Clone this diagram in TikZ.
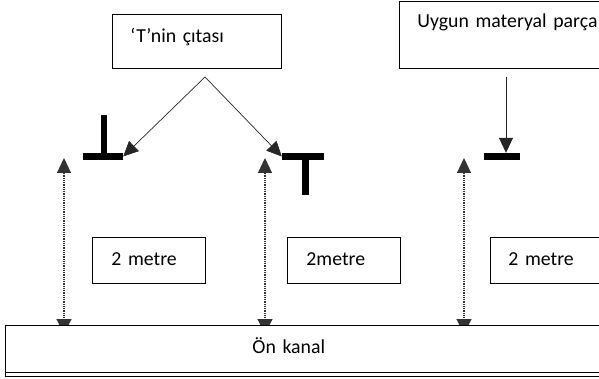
\documentclass[tikz,border=0pt]{standalone}
\usepackage{fontspec}
\setmainfont{Carlito}
\usetikzlibrary{arrows.meta,calc}
\begin{document}
\begin{tikzpicture}[x=1pt,y=-1pt,
  box/.style={draw=black,line width=0.9pt,fill=white,font=\fontsize{19.8}{24}\selectfont,align=left,inner ysep=0pt,anchor=north west},
  bar/.style={fill=black,inner sep=0pt,minimum height=7pt},
  ptr/.style={draw=black!85,line width=0.7pt,-{Triangle[length=15pt,width=14pt]}},
  dotarrow/.style={draw=black!80,line width=1.1pt,dash pattern=on 1pt off 0.8pt,{Triangle[length=15pt,width=14pt]}-{Triangle[length=15pt,width=15pt]}}
]
\useasboundingbox (0,0) rectangle (599,379);

% boxes at the top
\node[box, inner xsep=18pt, text width=133pt, minimum height=54pt, text height=12pt, text depth=10pt] (cita) at (112,14) {‘T’nin çıtası};
\node[box, inner xsep=18pt, text width=190pt, minimum height=67pt, text height=10pt, text depth=25pt] (mat) at (399,1) {Uygun materyal parça};

% T shapes
\node[bar, minimum width=40pt] (bar1) at (103,156.5) {};
\node[bar, minimum width=6pt, minimum height=38pt, anchor=south] (stem1) at (104,153) {};
\node[bar, minimum width=42pt] (bar2) at (303,156.5) {};
\node[bar, minimum width=7pt, minimum height=35pt, anchor=north] (stem2) at (305.5,160) {};
\node[bar, minimum width=36pt] (bar3) at (502,156.5) {};

% pointer arrows
\coordinate (apex) at (205,77);
\coordinate (matstart) at (506,77);
\draw[ptr] (apex) -- (bar1.east);
\draw[ptr] (apex) -- (bar2.west);
\draw[ptr, line width=0.9pt] (matstart) -- (matstart |- bar3.north);

% dotted measuring arrows
\coordinate (d1t) at (64,158);  \coordinate (d1b) at (64,334);
\coordinate (d2t) at (265,158); \coordinate (d2b) at (265,334);
\coordinate (d3t) at (464,158); \coordinate (d3b) at (464,334);
\draw[dotarrow] (d1t) -- (d1b);
\draw[dotarrow] (d2t) -- (d2b);
\draw[dotarrow] (d3t) -- (d3b);

% distance labels
\node[box, inner xsep=19pt, text width=75pt, minimum height=46pt, text height=12pt, text depth=2pt] (m1) at (92,237) {2 metre};
\node[box, inner xsep=19pt, text width=75pt, minimum height=46pt, text height=12pt, text depth=2pt] (m2) at (287,237) {2metre};
\node[box, inner xsep=18pt, text width=77pt, minimum height=46pt, text height=12pt, text depth=2pt] (m3) at (490,237) {2 metre};

% front channel
\node[box, inner xsep=247pt, text width=111pt, minimum height=47pt, text height=12pt, text depth=3pt] (kanal) at (5,325) {Ön kanal};
\draw[line width=0.9pt] (kanal.south west) -- ([yshift=-3.5pt]kanal.south west) -- ([yshift=-3.5pt]kanal.south east);
\end{tikzpicture}
\end{document}
